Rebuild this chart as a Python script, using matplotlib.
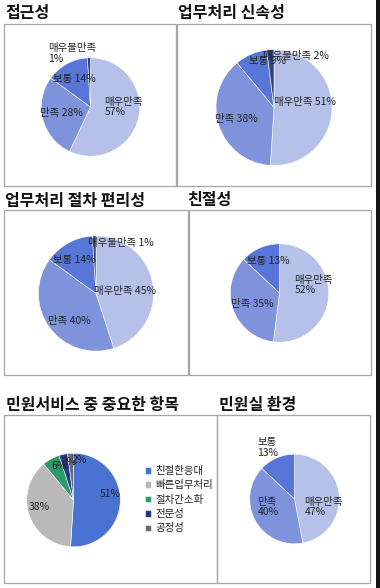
import matplotlib
matplotlib.use("Agg")
import matplotlib.pyplot as plt
from matplotlib.patches import Rectangle

plt.rcParams['font.family'] = ['Noto Sans CJK KR', 'DejaVu Sans']

# ---------------- data ----------------
sat_names = ['매우만족', '만족', '보통', '매우불만족']
access_vals = [57, 28, 14, 1]          # 접근성
speed_vals = [51, 38, 9, 2]            # 업무처리 신속성
convenience_vals = [45, 40, 14, 1]     # 업무처리 절차 편리성
kindness_vals = [52, 35, 13]           # 친절성
environment_vals = [47, 40, 13]        # 민원실 환경
item_names = ['친절한응대', '빠른업무처리', '절차간소화', '전문성', '공정성']
item_vals = [51, 38, 6, 3, 2]          # 민원서비스 중 중요한 항목

titles = ['접근성', '업무처리 신속성', '업무처리 절차 편리성', '친절성',
          '민원서비스 중 중요한 항목', '민원실 환경']

sat_colors = ['#b6c1ea', '#7e93dc', '#5876d8', '#2e437f']
item_colors = ['#4a72d2', '#b9b9b9', '#2a9a66', '#24388c', '#6b6b6b']

W, H = 380, 588
fig = plt.figure(figsize=(W / 100, H / 100), dpi=100)
fig.patch.set_facecolor('white')


def box(x0, y0, x1, y1):
    fig.add_artist(Rectangle((x0 / W, 1 - y1 / H), (x1 - x0) / W, (y1 - y0) / H,
                             transform=fig.transFigure, fill=False,
                             ec='#a6a6a6', lw=0.9))


def title(x, y, s):
    fig.text(x / W, 1 - y / H, s, fontsize=11.5, fontweight='bold',
             ha='left', va='center', color='#111111')


def pie_axes(cx, cy, r):
    ax = fig.add_axes([(cx - r) / W, 1 - (cy + r) / H, 2 * r / W, 2 * r / H])
    ax.set_xlim(-1, 1)
    ax.set_ylim(-1, 1)
    ax.set_axis_off()
    return ax


def draw_pie(ax, vals, colors):
    wedges, _ = ax.pie(vals, colors=colors, startangle=90, counterclock=False,
                       radius=1, wedgeprops=dict(edgecolor='white', linewidth=0.4))
    return wedges


def label(ax, x, y, s, ha='center'):
    ax.text(x, y, s, fontsize=7.5, ha=ha, va='center', color='#222222',
            clip_on=False, linespacing=1.05)


# ---------------- boxes ----------------
box(4, 24, 176, 186)
box(177, 24, 371, 186)
box(4, 210, 188, 375)
box(189, 210, 371, 375)
box(4, 415, 217, 583)
box(217, 415, 370, 583)

# ---------------- titles ----------------
title(5, 13, titles[0])
title(178, 13, titles[1])
title(5, 201, titles[2])
title(187, 200, titles[3])
title(6, 405, titles[4])
title(219, 405, titles[5])

# ---------------- 접근성 ----------------
ax = pie_axes(90.5, 107, 61.5)
draw_pie(ax, access_vals, sat_colors)
label(ax, 0.285, 0.0, f'{sat_names[0]}\n{access_vals[0]}%', ha='left')
label(ax, -0.59, -0.13, f'{sat_names[1]} {access_vals[1]}%')
label(ax, -0.32, 0.57, f'{sat_names[2]} {access_vals[2]}%')
label(ax, -0.87, 1.09, f'{sat_names[3]}\n{access_vals[3]}%', ha='left')

# ---------------- 업무처리 신속성 ----------------
ax = pie_axes(274, 107.5, 72.5)
draw_pie(ax, speed_vals, sat_colors)
label(ax, 0.53, 0.10, f'{sat_names[0]} {speed_vals[0]}%')
label(ax, -0.65, -0.2, f'{sat_names[1]} {speed_vals[1]}%')
label(ax, -0.12, 0.81, f'{sat_names[2]} {speed_vals[2]}%')
label(ax, 0.38, 0.89, f'{sat_names[3]} {speed_vals[3]}%')

# ---------------- 업무처리 절차 편리성 ----------------
ax = pie_axes(96, 293.5, 72)
draw_pie(ax, convenience_vals, sat_colors)
label(ax, 0.51, 0.035, f'{sat_names[0]} {convenience_vals[0]}%')
label(ax, -0.47, -0.47, f'{sat_names[1]} {convenience_vals[1]}%')
label(ax, -0.375, 0.59, f'{sat_names[2]} {convenience_vals[2]}%')
label(ax, 0.44, 0.88, f'{sat_names[3]} {convenience_vals[3]}%')

# ---------------- 친절성 ----------------
ax = pie_axes(279.5, 293, 61.5)
draw_pie(ax, kindness_vals, sat_colors[:3])
label(ax, 0.30, 0.16, f'{sat_names[0]}\n{kindness_vals[0]}%', ha='left')
label(ax, -0.56, -0.23, f'{sat_names[1]} {kindness_vals[1]}%')
label(ax, -0.22, 0.65, f'{sat_names[2]} {kindness_vals[2]}%')

# ---------------- 민원서비스 중 중요한 항목 ----------------
ax = pie_axes(73.5, 500, 58.5)
wedges = draw_pie(ax, item_vals, item_colors)
item_pos = [(0.78, 0.12), (-0.73, -0.15), (-0.31, 0.72), (-0.08, 0.82), (0.12, 0.85)]
for (x, y), v in zip(item_pos, item_vals):
    label(ax, x, y, f'{v}%')
fig.legend(wedges, item_names, loc='upper left',
           bbox_to_anchor=(145 / W, 1 - 466 / H), bbox_transform=fig.transFigure,
           frameon=False, fontsize=7.5, handlelength=0.6, handleheight=0.6,
           handletextpad=0.4, labelspacing=0.42, borderpad=0, borderaxespad=0,
           labelcolor='#222222')

# ---------------- 민원실 환경 ----------------
ax = pie_axes(294.5, 499, 56)
draw_pie(ax, environment_vals, sat_colors[:3])
label(ax, 0.22, -0.18, f'{sat_names[0]}\n{environment_vals[0]}%', ha='left')
label(ax, -0.83, -0.18, f'{sat_names[1]}\n{environment_vals[1]}%', ha='left')
label(ax, -0.83, 1.15, f'{sat_names[2]}\n{environment_vals[2]}%', ha='left')

# dark strip on the right edge of the scan
fig.add_artist(Rectangle((376 / W, 0), 4 / W, 1, transform=fig.transFigure,
                         fc='#151515', ec='none'))

fig.savefig('out.png', dpi=100)
